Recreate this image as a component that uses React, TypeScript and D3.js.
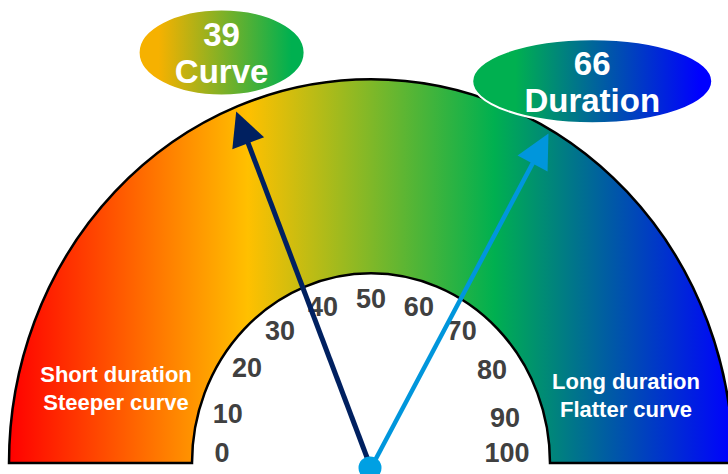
import React from "react";
import * as d3 from "d3";

// ---- data ----
const ticks = [0, 10, 20, 30, 40, 50, 60, 70, 80, 90, 100];
const needleValues = [39, 66];
const needleNames = ["Curve", "Duration"];
const bandLabelsLeft = ["Short duration", "Steeper curve"];
const bandLabelsRight = ["Long duration", "Flatter curve"];
const gradientStops = [0, 0.33, 0.67, 1];
const gradientColors = ["#ff0000", "#ffc000", "#00b050", "#0000ff"];

// ---- layout / style ----
const W = 728;
const H = 474;
const CX = 371;
const CY = 463;
const SY = 1.06;
const R_OUT = 362;
const R_IN = 179;
const R_TICK = 155;
const R_NEEDLE = 358;
const R_CALLOUT = 418;
const PIVOT_Y = 468;
const FONT = "'Liberation Sans', Arial, Helvetica, sans-serif";
const needleColors = ["#002060", "#0096dc"];
const needleWidths = [5, 4.5];
const calloutDx = [8, 14];
const calloutDy = [0, 3];
const calloutRx = [83, 120];
const calloutRy = [43, 42];
const calloutGradients = [
  ["#f6b100", "#00b050"],
  ["#00b050", "#0000ff"],
];
const calloutGradOffsets = [
  [0.12, 0.92],
  [0.18, 0.95],
];

const deg = Math.PI / 180;
// tick-label scale (scale face)
const angle = d3.scaleLinear().domain([0, 100]).range([Math.PI, 0]);
// needle scale (pointer geometry of the reference)
const needleAngle = d3.scaleLinear().domain([0, 100]).range([187 * deg, -5 * deg]);

const ptA = (a: number, r: number): [number, number] => [
  CX + r * Math.cos(a),
  CY - r * Math.sin(a) * SY,
];

export default function App() {
  const bandPath = d3.arc()({
    innerRadius: R_IN,
    outerRadius: R_OUT,
    startAngle: -Math.PI / 2,
    endAngle: Math.PI / 2,
  } as any) as string;

  return (
    <svg
      width={W}
      height={H}
      style={{ position: "absolute", left: 0, top: 0, display: "block" }}
      fontFamily={FONT}
    >
      <defs>
        <linearGradient id="bandGrad" gradientUnits="userSpaceOnUse" x1={-R_OUT} y1={0} x2={R_OUT} y2={0}>
          {gradientStops.map((s, i) => (
            <stop key={i} offset={s} stopColor={gradientColors[i]} />
          ))}
        </linearGradient>
        {calloutGradients.map((g, i) => (
          <linearGradient key={i} id={`callGrad${i}`} x1="0" y1="0" x2="1" y2="0">
            <stop offset={calloutGradOffsets[i][0]} stopColor={g[0]} />
            <stop offset={calloutGradOffsets[i][1]} stopColor={g[1]} />
          </linearGradient>
        ))}
      </defs>

      <rect width={W} height={H} fill="#ffffff" />

      <g transform={`translate(${CX},${CY}) scale(1,${SY})`}>
        <path
          d={bandPath}
          fill="url(#bandGrad)"
          stroke="#000"
          strokeWidth={2.5}
          vectorEffect="non-scaling-stroke"
          strokeLinejoin="miter"
        />
      </g>

      {ticks.map((t) => {
        const a = angle(t);
        const c = Math.abs(Math.cos(a));
        const r = R_TICK - (t > 50 ? 19 : 6) * Math.pow(c, 6);
        const [x, y] = ptA(a, r);
        return (
          <text
            key={t}
            x={x}
            y={Math.min(y, 452)}
            dy="0.36em"
            textAnchor="middle"
            fontSize={27}
            fontWeight="bold"
            fill="#404040"
          >
            {t}
          </text>
        );
      })}

      {bandLabelsLeft.map((s, i) => (
        <text
          key={s}
          x={116}
          y={374 + i * 28}
          dy="0.36em"
          textAnchor="middle"
          fontSize={22}
          fontWeight="bold"
          fill="#ffffff"
        >
          {s}
        </text>
      ))}
      {bandLabelsRight.map((s, i) => (
        <text
          key={s}
          x={626}
          y={381 + i * 28}
          dy="0.36em"
          textAnchor="middle"
          fontSize={22}
          fontWeight="bold"
          fill="#ffffff"
        >
          {s}
        </text>
      ))}

      {needleValues.map((v, i) => {
        const [tx, ty] = ptA(needleAngle(v), R_NEEDLE);
        const dx = tx - CX;
        const dy = ty - PIVOT_Y;
        const len = Math.hypot(dx, dy);
        const ux = dx / len;
        const uy = dy / len;
        const headLen = 34;
        const halfW = 17;
        const bx = tx - ux * headLen;
        const by = ty - uy * headLen;
        const px = -uy;
        const py = ux;
        const head = `M${tx},${ty}L${bx + px * halfW},${by + py * halfW}L${bx - px * halfW},${by - py * halfW}Z`;
        return (
          <g key={v}>
            <line
              x1={CX}
              y1={PIVOT_Y}
              x2={bx + ux * 4}
              y2={by + uy * 4}
              stroke={needleColors[i]}
              strokeWidth={needleWidths[i]}
            />
            <path d={head} fill={needleColors[i]} />
          </g>
        );
      })}

      <circle cx={CX - 1} cy={PIVOT_Y} r={11.5} fill="#00a0e3" />

      {needleValues.map((v, i) => {
        const [ax, ay] = ptA(needleAngle(v), R_CALLOUT);
        const x = ax + calloutDx[i];
        const y = ay + calloutDy[i];
        return (
          <g key={v}>
            <ellipse
              cx={x}
              cy={y}
              rx={calloutRx[i]}
              ry={calloutRy[i]}
              fill={`url(#callGrad${i})`}
              stroke="#ffffff"
              strokeWidth={2}
            />
            <text x={x} y={y - 18.5} dy="0.36em" textAnchor="middle" fontSize={33} fontWeight="bold" fill="#ffffff">
              {v}
            </text>
            <text x={x} y={y + 18.5} dy="0.36em" textAnchor="middle" fontSize={33} fontWeight="bold" fill="#ffffff">
              {needleNames[i]}
            </text>
          </g>
        );
      })}
    </svg>
  );
}
